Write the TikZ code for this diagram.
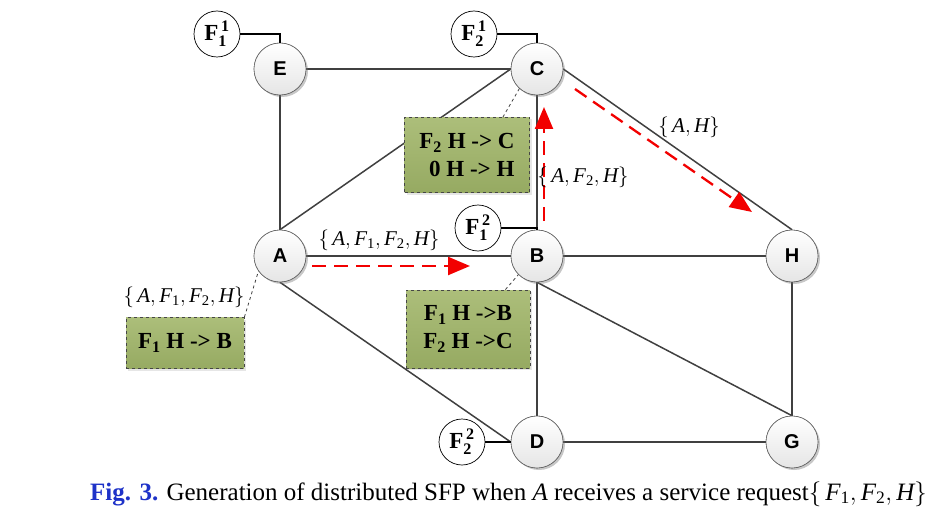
\documentclass[tikz,border=0pt]{standalone}
\usepackage{fontspec}
\setmainfont{Liberation Serif}
\newfontfamily\arialb{Liberation Sans}
\usetikzlibrary{shadows,arrows.meta}
\definecolor{boxtop}{RGB}{172,190,122}
\definecolor{boxbot}{RGB}{150,170,98}
\definecolor{figblue}{RGB}{30,50,200}
\newcommand{\mset}[1]{$\Big\{\,#1\Big\}$}
\begin{document}
\begin{tikzpicture}[x=1pt,y=-1pt,
 vnode/.style={circle,minimum size=52pt,inner sep=0pt,draw=gray!75!black,line width=0.6pt,top color=white,bottom color=gray!20,drop shadow={shadow xshift=2pt,shadow yshift=-2pt,opacity=0.25},font=\arialb\bfseries\fontsize{20}{20}\selectfont},
 fnode/.style={circle,minimum size=46pt,inner sep=0pt,draw=black,line width=0.7pt,fill=white,font=\bfseries\fontsize{23}{23}\selectfont},
 link/.style={draw=black!75,line width=1.5pt},
 flink/.style={draw=black,line width=1.2pt},
 flow/.style={draw=red!95!black,line width=2.3pt,dash pattern=on 14pt off 8pt,-{Triangle[length=22pt,width=18pt]}},
 gbox/.style={draw=gray!55!black,dashed,line width=0.8pt,top color=boxtop,bottom color=boxbot,align=center,inner sep=0pt,font=\bfseries\fontsize{23}{28}\selectfont,drop shadow={shadow xshift=2pt,shadow yshift=-2pt,opacity=0.2}},
 note/.style={draw=gray!50!black,dashed,line width=0.8pt},
 lab/.style={font=\fontsize{21}{21}\selectfont,inner sep=0pt}
]
\useasboundingbox (0,0) rectangle (945,524);
\node[vnode] (E) at (280,69) {E};
\node[vnode] (C) at (537,69) {C};
\node[vnode] (A) at (280,256) {A};
\node[vnode] (B) at (537,256) {B};
\node[vnode] (H) at (792,256) {H};
\node[vnode] (D) at (537,442) {D};
\node[vnode] (G) at (792,442) {G};
% links
\draw[link] (E) -- (C);
\draw[link] (E) -- (A);
\draw[link] (A.north) -- (C.west);
\draw[link] (A) -- (B);
\draw[link] (A.south) -- (D.west);
\draw[link] (C) -- (B);
\draw[link] (C.east) -- (H.north);
\draw[link] (B) -- (H);
\draw[link] (B) -- (D);
\draw[link] (B.south) -- (G.north);
\draw[link] (H) -- (G);
\draw[link] (D) -- (G);
% redraw nodes on top
\node[vnode] at (E) {E};
\node[vnode] at (C) {C};
\node[vnode] at (A) {A};
\node[vnode] at (B) {B};
\node[vnode] at (H) {H};
\node[vnode] at (D) {D};
\node[vnode] at (G) {G};
% F nodes
\node[fnode] (F11) at (217,34) {F$_{\mathbf{1}}^{\,\mathbf{1}}$};
\node[fnode] (F21) at (474,34) {F$_{\mathbf{2}}^{\,\mathbf{1}}$};
\node[fnode] (F12) at (478,228) {F$_{\mathbf{1}}^{\,\mathbf{2}}$};
\node[fnode] (F22) at (462,442) {F$_{\mathbf{2}}^{\,\mathbf{2}}$};
\draw[flink] (F11.east) -| (E.north);
\draw[flink] (F21.east) -| (C.north);
\draw[flink] (F12.east) -| (B.north);
\draw[flink] (F22.east) -- (D.west);
% green boxes
\node[gbox,minimum width=125pt,minimum height=75pt] (b1) at (467,155) {F$_{\mathbf{2}}$ H -> C\\ \ \,0 H -> H};
\node[gbox,minimum width=124pt,minimum height=78pt] (b2) at (468,329) {F$_{\mathbf{1}}$ H ->B\\F$_{\mathbf{2}}$ H ->C};
\node[gbox,minimum width=118pt,minimum height=51pt] (b3) at (185,343) {F$_{\mathbf{1}}$ H -> B};
\draw[note] ([xshift=-27pt]b1.north east) -- (C.228);
\draw[note] ([xshift=-25pt]b2.north east) -- (B.225);
\draw[note] (b3.north east) -- (A.215);
% flows
\coordinate (ab1) at (312,266);
\coordinate (ab2) at (470,266);
\coordinate (bc1) at (544,221);
\coordinate (bc2) at (544,107);
\coordinate (ch1) at (575,89);
\coordinate (ch2) at (752,212);
\draw[flow] (ab1) -- (ab2);
\draw[flow] (bc1) -- (bc2);
\draw[flow] (ch1) -- (ch2);
% labels
\node[lab] (l1) at (379,240) {\mset{\mathit{A},\mathit{F}_{\mathrm{1}},\mathit{F}_{\mathrm{2}},\mathit{H}}};
\node[lab] (l2) at (583,177) {\mset{\mathit{A},\mathit{F}_{\mathrm{2}},\mathit{H}}};
\node[lab] (l3) at (689,127) {\mset{\mathit{A},\mathit{H}}};
\node[lab] (l4) at (184,297) {\mset{\mathit{A},\mathit{F}_{\mathrm{1}},\mathit{F}_{\mathrm{2}},\mathit{H}}};
% caption
\node[anchor=west,inner sep=0pt,font=\fontsize{25}{25}\selectfont] (cap) at (90,494) {{\color{figblue}\bfseries Fig. 3.} Generation of distributed SFP when \textit{A} receives a service request$\Big\{\,\mathit{F}_{\mathrm{1}},\mathit{F}_{\mathrm{2}},\mathit{H}\Big\}$};
\end{tikzpicture}
\end{document}
